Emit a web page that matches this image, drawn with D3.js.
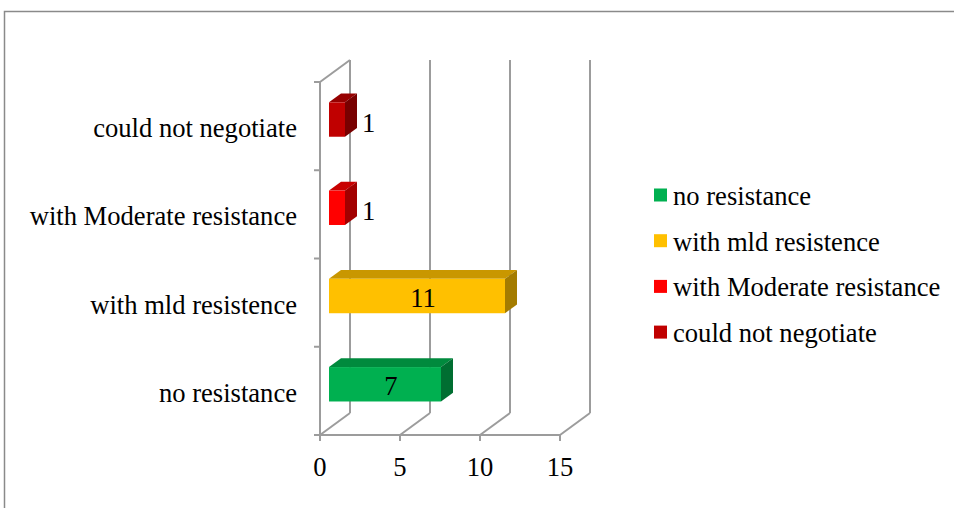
<!DOCTYPE html>
<html>
<head>
<meta charset="utf-8">
<script src="https://cdn.jsdelivr.net/npm/d3@7"></script>
<style>
  html, body { margin: 0; padding: 0; background: #fff; }
  svg { display: block; }
  text { font-family: "Liberation Serif", "Times New Roman", serif; fill: #000; }
</style>
</head>
<body>
<svg id="chart" width="954" height="508"></svg>
<script>
// Categories, bottom to top, with their counts
const categories = ["no resistance", "with mld resistence", "with Moderate resistance", "could not negotiate"];
const counts = [7, 11, 1, 1];
const xTicks = [0, 5, 10, 15];
const legendLabels = ["no resistance", "with mld resistence", "with Moderate resistance", "could not negotiate"];

// Face colours per series: front, top, side
const frontColors = ["#00B050", "#FFC000", "#FF0000", "#C00000"];
const topColors   = ["#008A3D", "#C99700", "#C80000", "#960000"];
const sideColors  = ["#006E31", "#A47C00", "#A20000", "#780000"];

const FONT = 26.6;

const svg = d3.select("#chart");

// Outer frame
svg.append("path")
  .attr("d", "M4.5,508 L4.5,11.5 L954,11.5")
  .attr("fill", "none").attr("stroke", "#8a8a8a").attr("stroke-width", 1.5);

// Front plane scales
const x = d3.scaleLinear().domain([0, 15]).range([320, 560]);
const y = d3.scaleBand().domain(categories).range([435, 82]);

// Perspective offset of the full depth (front -> back)
const DX = 30, DY = -22;
const d0 = 0.3, d1 = 0.7; // bar depth span

const gridColor = "#9c9c9c";
const grid = svg.append("g").attr("fill", "none").attr("stroke", gridColor).attr("stroke-width", 2);

const floorY = y.range()[0];
const topY = y.range()[1];

// Back wall vertical gridlines, floor diagonals and bottom tick marks
xTicks.forEach(t => {
  grid.append("line")
    .attr("x1", x(t) + DX).attr("x2", x(t) + DX)
    .attr("y1", topY + DY).attr("y2", floorY + DY);
  grid.append("line")
    .attr("x1", x(t)).attr("y1", floorY)
    .attr("x2", x(t) + DX).attr("y2", floorY + DY);
  grid.append("line")
    .attr("x1", x(t)).attr("x2", x(t))
    .attr("y1", floorY).attr("y2", floorY + 6);
});

// Front floor edge
grid.append("line")
  .attr("x1", x(0)).attr("x2", x(15))
  .attr("y1", floorY).attr("y2", floorY);

// Left wall front edge and top diagonal
grid.append("line")
  .attr("x1", x(0)).attr("x2", x(0))
  .attr("y1", topY).attr("y2", floorY);
grid.append("line")
  .attr("x1", x(0)).attr("y1", topY)
  .attr("x2", x(0) + DX).attr("y2", topY + DY);

// Category tick marks on the left edge
const catBounds = [floorY].concat(categories.map(c => y(c)));
catBounds.forEach(v => {
  grid.append("line")
    .attr("x1", x(0) - 6).attr("x2", x(0))
    .attr("y1", v).attr("y2", v);
});

// Category labels
svg.append("g").selectAll("text")
  .data(categories)
  .join("text")
  .attr("x", 297)
  .attr("y", d => y(d) + y.bandwidth() / 2 + 2)
  .attr("text-anchor", "end")
  .attr("dominant-baseline", "central")
  .attr("font-size", FONT)
  .text(d => d);

// X tick labels
svg.append("g").selectAll("text")
  .data(xTicks)
  .join("text")
  .attr("x", d => x(d))
  .attr("y", 467)
  .attr("text-anchor", "middle")
  .attr("dominant-baseline", "central")
  .attr("font-size", FONT)
  .text(d => d);

// 3D bars
const barH = y.bandwidth() * 0.39;
const bars = svg.append("g");
categories.forEach((c, i) => {
  const v = counts[i];
  const fx0 = x(0) + DX * d0, fx1 = x(v) + DX * d0;
  const cy = y(c) + y.bandwidth() / 2 + DY * d0;
  const fy0 = cy - barH / 2, fy1 = cy + barH / 2;
  const ddx = DX * (d1 - d0), ddy = DY * (d1 - d0);

  // top face
  bars.append("path")
    .attr("d", `M${fx0},${fy0} L${fx1},${fy0} L${fx1 + ddx},${fy0 + ddy} L${fx0 + ddx},${fy0 + ddy} Z`)
    .attr("fill", topColors[i]);
  // side face
  bars.append("path")
    .attr("d", `M${fx1},${fy0} L${fx1 + ddx},${fy0 + ddy} L${fx1 + ddx},${fy1 + ddy} L${fx1},${fy1} Z`)
    .attr("fill", sideColors[i]);
  // front face
  bars.append("rect")
    .attr("x", fx0).attr("y", fy0)
    .attr("width", fx1 - fx0).attr("height", barH)
    .attr("fill", frontColors[i]);

  // value label: inside long bars, beside short ones
  const inside = v >= 5;
  bars.append("text")
    .attr("x", inside ? (fx0 + fx1) / 2 + 6 : fx1 + ddx + 5)
    .attr("y", inside ? cy + 2 : cy + 3)
    .attr("text-anchor", inside ? "middle" : "start")
    .attr("dominant-baseline", "central")
    .attr("font-size", FONT)
    .text(v);
});

// Legend
const legend = svg.append("g");
legendLabels.forEach((label, i) => {
  const ly = 195 + i * 45.7;
  legend.append("rect")
    .attr("x", 654).attr("y", ly - 6.5)
    .attr("width", 13).attr("height", 13)
    .attr("fill", frontColors[i]);
  legend.append("text")
    .attr("x", 673).attr("y", ly + 1)
    .attr("dominant-baseline", "central")
    .attr("font-size", FONT)
    .text(label);
});
</script>
</body>
</html>
